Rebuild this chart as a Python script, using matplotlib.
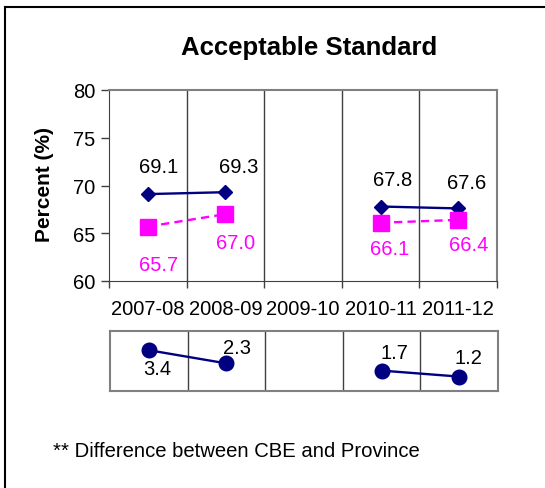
import numpy as np
import matplotlib
matplotlib.use("Agg")
import matplotlib.pyplot as plt
from matplotlib.lines import Line2D

plt.rcParams['font.family'] = ['Liberation Sans', 'DejaVu Sans']

# data
years = ['2007-08', '2008-09', '2009-10', '2010-11', '2011-12']
cbe = [69.1, 69.3, np.nan, 67.8, 67.6]
province = [65.7, 67.0, np.nan, 66.1, 66.4]
diff = [3.4, 2.3, np.nan, 1.7, 1.2]

# label offsets in pixels (dx, dy)
cbe_off = [(11, 28), (13, 26), None, (12, 27), (8, 26)]
prov_off = [(11, -38), (10, -28), None, (9, -26), (10, -25)]
diff_off = [(8, -18), (11, 16), None, (13, 18), (9, 19)]

navy = '#000080'
pink = '#FF00FF'
grey = '#808080'
gridc = '#404040'

fig = plt.figure(figsize=(5.45, 4.89), dpi=100)
x = np.arange(len(years)) + 0.5

# main chart
ax = fig.add_axes([109/545, 1-282/489, 388/545, 191/489])
ax.plot(x, cbe, color=navy, lw=1.7, marker='D', ms=7.6, zorder=3)
ax.plot(x, province, color=pink, lw=1.7, ls=(0, (3.5, 2.2)), marker='s', ms=11,
        markeredgecolor=pink, zorder=3)
for i in range(len(years)):
    if cbe_off[i] is not None:
        ax.annotate('%.1f' % cbe[i], (x[i], cbe[i]), xytext=cbe_off[i],
                    textcoords='offset pixels', ha='center', va='center',
                    fontsize=14.5, color='black')
    if prov_off[i] is not None:
        ax.annotate('%.1f' % province[i], (x[i], province[i]), xytext=prov_off[i],
                    textcoords='offset pixels', ha='center', va='center',
                    fontsize=14.5, color=pink)
ax.set_xlim(0, 5)
ax.set_ylim(60, 80)
ax.set_yticks([60, 65, 70, 75, 80])
ax.set_xticks(range(6))
ax.set_xticklabels([])
ax.set_xticks(x, minor=True)
ax.set_xticklabels(years, minor=True)
ax.tick_params(axis='x', which='major', direction='out', length=5, width=1,
               color=gridc)
ax.tick_params(axis='x', which='minor', length=0, pad=13, labelsize=14.5)
ax.tick_params(axis='y', direction='out', length=6, width=1, labelsize=14.5,
               pad=4, color=gridc)
for b in range(1, 5):
    ax.axvline(b, color=gridc, lw=1, zorder=1)
ax.spines['left'].set_color(gridc)
ax.spines['bottom'].set_color(gridc)
ax.spines['top'].set_color(grey)
ax.spines['right'].set_color(grey)
ax.spines['top'].set_linewidth(1.5)
ax.spines['right'].set_linewidth(1.5)

# difference strip
ax2 = fig.add_axes([110/545, 1-392/489, 388/545, 60/489])
ax2.plot(x, diff, color=navy, lw=1.7, marker='o', ms=10.5, zorder=3)
for i in range(len(years)):
    if diff_off[i] is not None:
        ax2.annotate('%.1f' % diff[i], (x[i], diff[i]), xytext=diff_off[i],
                     textcoords='offset pixels', ha='center', va='center',
                     fontsize=14.5, color='black')
ax2.set_xlim(0, 5)
ax2.set_ylim(0, 5)
ax2.set_xticks([])
ax2.set_yticks([])
for b in range(1, 5):
    ax2.axvline(b, color=gridc, lw=1, zorder=1)
for s in ax2.spines.values():
    s.set_color(grey)
    s.set_linewidth(1.5)

fig.text(309/545, 1-48/489, 'Acceptable Standard', ha='center', va='center',
         fontsize=18.5, fontweight='bold')
fig.text(45/545, 1-185/489, 'Percent (%)', ha='center', va='center',
         rotation=90, fontsize=15, fontweight='bold')
fig.text(53/545, 1-452/489, '** Difference between CBE and Province',
         ha='left', va='center', fontsize=14.6)

# outer frame (cut off on right and bottom)
fig.add_artist(Line2D([5/545, 1.0], [1-8/489, 1-8/489], color='black', lw=1.5,
                      transform=fig.transFigure))
fig.add_artist(Line2D([5/545, 5/545], [0, 1-8/489], color='black', lw=1.5,
                      transform=fig.transFigure))

fig.savefig('out.png', dpi=100)
